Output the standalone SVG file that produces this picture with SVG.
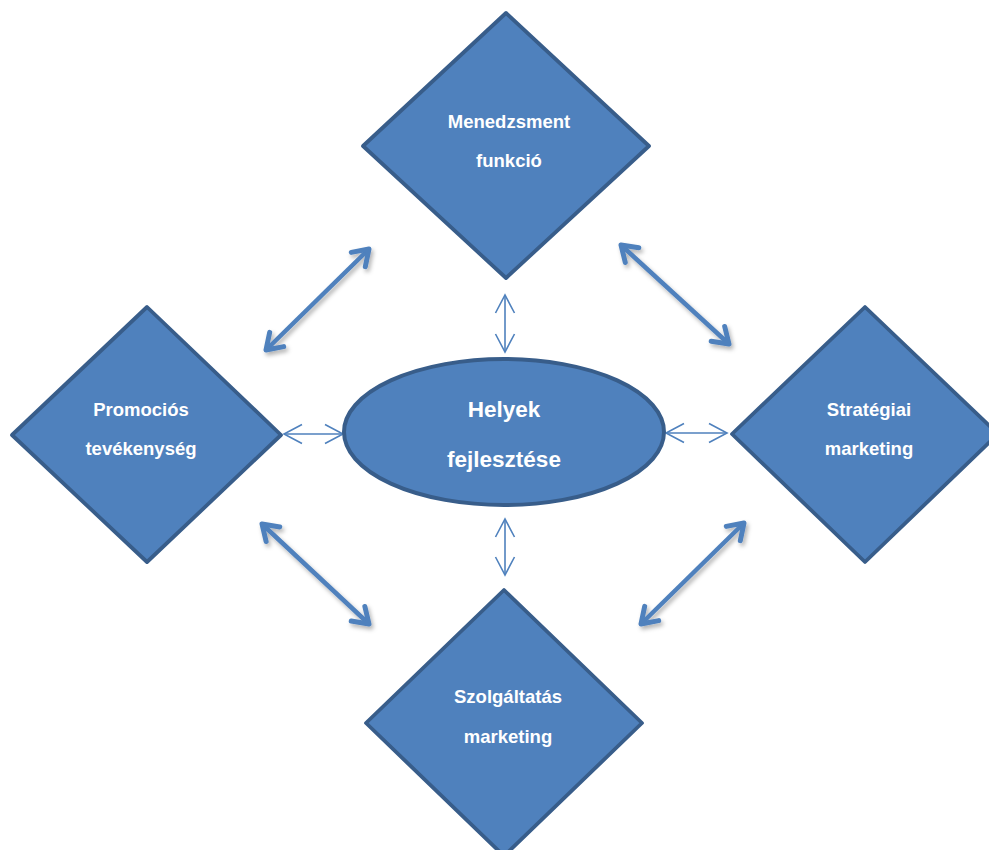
<svg xmlns="http://www.w3.org/2000/svg" width="989" height="850" viewBox="0 0 989 850">
<style>
.shape{fill:#4F81BD;stroke:#385D8A;stroke-width:3.8;stroke-linejoin:round}
.lbl{font-family:"Liberation Sans",Arial,sans-serif;font-weight:bold;font-size:18.5px;fill:#FFFFFF;text-anchor:middle}
.big{font-size:22.5px}
.thick{stroke:#4F81BD;stroke-width:4.5;fill:none;marker-start:url(#hk);marker-end:url(#hk);filter:url(#sh)}
.thin{stroke:#4F81BD;stroke-width:1.6;fill:none;marker-start:url(#ht);marker-end:url(#ht)}
</style>
<defs>
<filter id="sh" x="-20%" y="-20%" width="140%" height="140%">
<feDropShadow dx="2" dy="3" stdDeviation="2" flood-color="#000000" flood-opacity="0.3"/>
</filter>
<marker id="hk" markerUnits="userSpaceOnUse" viewBox="-22 -14 26 28" refX="0" refY="0" markerWidth="26" markerHeight="28" orient="auto-start-reverse">
<path d="M -15 -10 L 0 0 L -15 10" fill="none" stroke="#4F81BD" stroke-width="5" stroke-linecap="round" stroke-linejoin="round"/>
</marker>
<marker id="ht" markerUnits="userSpaceOnUse" viewBox="-22 -12 24 24" refX="0" refY="0" markerWidth="24" markerHeight="24" orient="auto-start-reverse">
<path d="M -18 -9.5 L 0 0 L -18 9.5" fill="none" stroke="#4F81BD" stroke-width="1.6" stroke-linejoin="miter"/>
</marker>
</defs>
<rect width="989" height="850" fill="#FFFFFF"/>
<g id="connectors">
<line class="thick" x1="369" y1="249" x2="266" y2="350"/>
<line class="thick" x1="621" y1="245" x2="729" y2="344"/>
<line class="thick" x1="262" y1="524" x2="369" y2="624"/>
<line class="thick" x1="744" y1="523" x2="641" y2="624"/>
<line class="thin" x1="505" y1="295" x2="505" y2="352"/>
<line class="thin" x1="505" y1="519" x2="505" y2="575"/>
<line class="thin" x1="284" y1="434" x2="343" y2="434"/>
<line class="thin" x1="666" y1="433" x2="727" y2="433"/>
</g>
<g id="menedzsment">
<polygon class="shape" points="506,13 649,146 506,278 363,146"/>
<text class="lbl" x="509" y="128">Menedzsment</text>
<text class="lbl" x="509" y="167">funkció</text>
</g>
<g id="promocios">
<polygon class="shape" points="147,307 281,435 147,562 12,435"/>
<text class="lbl" x="141" y="416">Promociós</text>
<text class="lbl" x="141" y="455">tevékenység</text>
</g>
<g id="strategiai">
<polygon class="shape" points="865,307 998,434 865,562 732,434"/>
<text class="lbl" x="869" y="416">Stratégiai</text>
<text class="lbl" x="869" y="455">marketing</text>
</g>
<g id="szolgaltatas">
<polygon class="shape" points="504,590 642,723 504,856 366,723"/>
<text class="lbl" x="508" y="703">Szolgáltatás</text>
<text class="lbl" x="508" y="743">marketing</text>
</g>
<g id="helyek">
<ellipse class="shape" cx="504" cy="432" rx="160" ry="73" style="stroke-width:4"/>
<text class="lbl big" x="504" y="417">Helyek</text>
<text class="lbl big" x="504" y="467">fejlesztése</text>
</g>
</svg>
